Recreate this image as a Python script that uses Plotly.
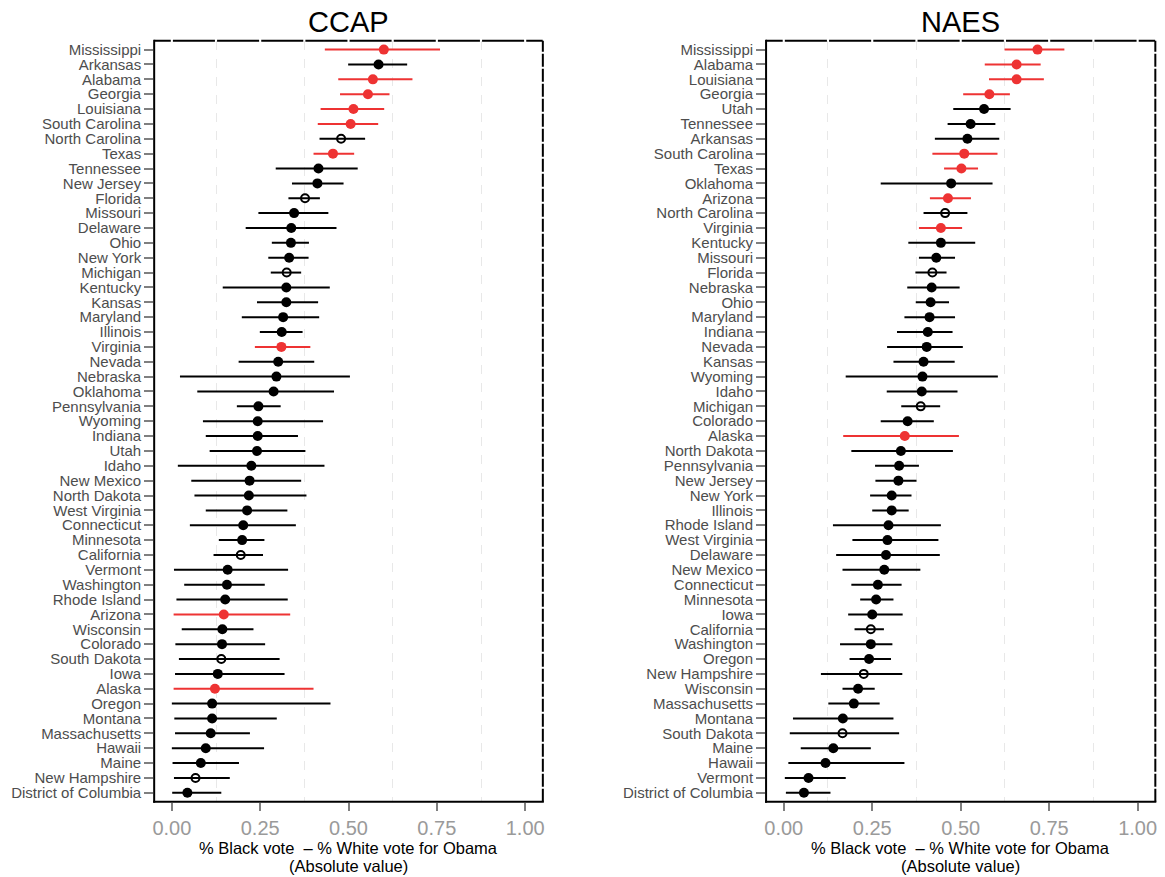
import plotly.graph_objects as go

# ---------------- data ----------------
ccap_states = ["Mississippi", "Arkansas", "Alabama", "Georgia", "Louisiana", "South Carolina",
               "North Carolina", "Texas", "Tennessee", "New Jersey", "Florida", "Missouri",
               "Delaware", "Ohio", "New York", "Michigan", "Kentucky", "Kansas", "Maryland",
               "Illinois", "Virginia", "Nevada", "Nebraska", "Oklahoma", "Pennsylvania",
               "Wyoming", "Indiana", "Utah", "Idaho", "New Mexico", "North Dakota",
               "West Virginia", "Connecticut", "Minnesota", "California", "Vermont",
               "Washington", "Rhode Island", "Arizona", "Wisconsin", "Colorado",
               "South Dakota", "Iowa", "Alaska", "Oregon", "Montana", "Massachusetts",
               "Hawaii", "Maine", "New Hampshire", "District of Columbia"]
ccap_est = [0.600, 0.585, 0.569, 0.555, 0.514, 0.506, 0.479, 0.456, 0.415, 0.412, 0.377, 0.346,
            0.338, 0.337, 0.332, 0.325, 0.324, 0.324, 0.315, 0.311, 0.310, 0.301, 0.296, 0.288,
            0.245, 0.243, 0.243, 0.241, 0.225, 0.220, 0.218, 0.213, 0.202, 0.199, 0.195, 0.158,
            0.156, 0.151, 0.147, 0.143, 0.142, 0.140, 0.130, 0.122, 0.114, 0.114, 0.110, 0.096,
            0.082, 0.067, 0.044]
ccap_lo = [0.433, 0.499, 0.471, 0.476, 0.421, 0.413, 0.418, 0.401, 0.294, 0.340, 0.330, 0.245,
           0.209, 0.283, 0.273, 0.280, 0.144, 0.241, 0.198, 0.249, 0.235, 0.189, 0.023, 0.072,
           0.184, 0.088, 0.096, 0.107, 0.017, 0.055, 0.064, 0.096, 0.051, 0.133, 0.118, 0.006,
           0.035, 0.013, 0.005, 0.028, 0.010, 0.020, 0.009, 0.005, 0.000, 0.007, 0.009, 0.000,
           0.002, 0.006, 0.001]
ccap_hi = [0.759, 0.666, 0.681, 0.616, 0.601, 0.584, 0.547, 0.516, 0.526, 0.486, 0.419, 0.443,
           0.466, 0.388, 0.387, 0.366, 0.447, 0.414, 0.417, 0.370, 0.392, 0.403, 0.504, 0.459,
           0.308, 0.428, 0.357, 0.378, 0.432, 0.366, 0.381, 0.327, 0.351, 0.262, 0.258, 0.329,
           0.263, 0.328, 0.335, 0.231, 0.264, 0.305, 0.319, 0.401, 0.449, 0.297, 0.221, 0.261,
           0.190, 0.164, 0.140]

naes_states = ["Mississippi", "Alabama", "Louisiana", "Georgia", "Utah", "Tennessee", "Arkansas",
               "South Carolina", "Texas", "Oklahoma", "Arizona", "North Carolina", "Virginia",
               "Kentucky", "Missouri", "Florida", "Nebraska", "Ohio", "Maryland", "Indiana",
               "Nevada", "Kansas", "Wyoming", "Idaho", "Michigan", "Colorado", "Alaska",
               "North Dakota", "Pennsylvania", "New Jersey", "New York", "Illinois",
               "Rhode Island", "West Virginia", "Delaware", "New Mexico", "Connecticut",
               "Minnesota", "Iowa", "California", "Washington", "Oregon", "New Hampshire",
               "Wisconsin", "Massachusetts", "Montana", "South Dakota", "Maine", "Hawaii",
               "Vermont", "District of Columbia"]
naes_est = [0.717, 0.658, 0.658, 0.581, 0.566, 0.528, 0.519, 0.510, 0.502, 0.473, 0.464, 0.456,
            0.444, 0.444, 0.431, 0.420, 0.418, 0.415, 0.412, 0.407, 0.404, 0.395, 0.392, 0.390,
            0.387, 0.350, 0.342, 0.331, 0.326, 0.324, 0.305, 0.305, 0.296, 0.293, 0.289, 0.284,
            0.266, 0.261, 0.250, 0.246, 0.246, 0.241, 0.226, 0.210, 0.198, 0.167, 0.166, 0.140,
            0.118, 0.070, 0.057]
naes_lo = [0.624, 0.568, 0.580, 0.507, 0.479, 0.463, 0.427, 0.420, 0.453, 0.274, 0.413, 0.395,
           0.382, 0.352, 0.382, 0.372, 0.349, 0.373, 0.341, 0.320, 0.292, 0.310, 0.175, 0.291,
           0.332, 0.274, 0.168, 0.191, 0.258, 0.259, 0.244, 0.250, 0.139, 0.194, 0.148, 0.166,
           0.191, 0.216, 0.182, 0.200, 0.159, 0.186, 0.105, 0.166, 0.126, 0.026, 0.017, 0.048,
           0.013, 0.003, 0.006]
naes_hi = [0.793, 0.726, 0.735, 0.639, 0.641, 0.598, 0.609, 0.604, 0.549, 0.590, 0.529, 0.519,
           0.504, 0.541, 0.484, 0.460, 0.497, 0.467, 0.484, 0.477, 0.506, 0.483, 0.605, 0.491,
           0.442, 0.424, 0.495, 0.478, 0.382, 0.375, 0.361, 0.353, 0.444, 0.437, 0.441, 0.386,
           0.333, 0.310, 0.336, 0.283, 0.307, 0.303, 0.335, 0.257, 0.271, 0.310, 0.326, 0.246,
           0.341, 0.175, 0.132]

red_states = ["Mississippi", "Alabama", "Georgia", "Louisiana", "South Carolina", "Texas",
              "Virginia", "Arizona", "Alaska"]
open_states = ["North Carolina", "Florida", "Michigan", "California", "South Dakota",
               "New Hampshire"]

panel_titles = ["CCAP", "NAES"]
xtick_vals = [0, 0.25, 0.5, 0.75, 1.0]
xtick_text = ["0.00", "0.25", "0.50", "0.75", "1.00"]
xlabel_line1 = "% Black vote \u00a0\u2013 % White vote for Obama"
xlabel_line2 = "(Absolute value)"

# ---------------- figure ----------------
W, H = 1165, 877
RED = "#EE3333"
FONT = "Liberation Sans, Arial, sans-serif"

x_domains = [[152.7 / W, 542.7 / W], [766.7 / W, 1157.3 / W]]
y_top_px, y_bot_px = 40.7, 801.7
y_domain = [1 - y_bot_px / H, 1 - y_top_px / H]

fig = go.Figure()

panels = [(ccap_states, ccap_est, ccap_lo, ccap_hi),
          (naes_states, naes_est, naes_lo, naes_hi)]

for p, (states, est, lo, hi) in enumerate(panels):
    xa = "x" if p == 0 else "x2"
    ya = "y" if p == 0 else "y2"
    for grp in ["black", "open", "red"]:
        sx, sy, ep, em = [], [], [], []
        for s, e, l, h in zip(states, est, lo, hi):
            if grp == "red" and s not in red_states:
                continue
            if grp == "open" and s not in open_states:
                continue
            if grp == "black" and (s in red_states or s in open_states):
                continue
            sx.append(e)
            sy.append(s)
            ep.append(h - e)
            em.append(e - l)
        col = RED if grp == "red" else "black"
        if grp == "open":
            marker = dict(symbol="circle-open", size=8, color="black", line=dict(width=2, color="black"))
        else:
            marker = dict(symbol="circle", size=10, color=col, line=dict(width=0))
        fig.add_trace(go.Scatter(
            x=sx, y=sy, mode="markers", marker=marker,
            error_x=dict(type="data", symmetric=False, array=ep, arrayminus=em,
                         color=col, thickness=2, width=0),
            xaxis=xa, yaxis=ya, showlegend=False, hoverinfo="skip"))

axis_common_x = dict(
    range=[-0.05, 1.05], tickmode="array", tickvals=xtick_vals, ticktext=xtick_text,
    ticks="outside", ticklen=8, tickwidth=2, tickcolor="#7f7f7f",
    tickfont=dict(family=FONT, size=20, color="#9a9a9a"),
    showgrid=False, zeroline=False, showline=False,
    minor=dict(tickvals=[0.125, 0.375, 0.625, 0.875], showgrid=True, gridcolor="#e8e8e8",
               griddash="dash", gridwidth=1, ticks=""),
    fixedrange=True,
)
axis_common_y = dict(
    type="category", ticks="outside", ticklen=9, tickwidth=2, tickcolor="#7f7f7f",
    tickfont=dict(family=FONT, size=15, color="#4d4d4d"),
    showgrid=False, zeroline=False, showline=False, range=[50.6, -0.6], fixedrange=True,
    tickmode="array",
)

fig.update_layout(
    width=W, height=H, margin=dict(l=0, r=0, t=0, b=0),
    plot_bgcolor="white", paper_bgcolor="white",
    xaxis=dict(domain=x_domains[0], anchor="y", **axis_common_x),
    xaxis2=dict(domain=x_domains[1], anchor="y2", **axis_common_x),
    yaxis=dict(domain=y_domain, anchor="x", categoryorder="array",
               categoryarray=ccap_states, tickvals=ccap_states, ticktext=ccap_states,
               **axis_common_y),
    yaxis2=dict(domain=y_domain, anchor="x2", categoryorder="array",
                categoryarray=naes_states, tickvals=naes_states, ticktext=naes_states,
                **axis_common_y),
)

shapes = []
annotations = []
for p in range(2):
    xl, xr = x_domains[p]
    yb, yt = y_domain
    xref = "x" if p == 0 else "x2"
    # left & bottom borders (solid)
    shapes.append(dict(type="line", xref="paper", yref="paper", x0=xl, x1=xl, y0=yb - 1 / H, y1=yt + 1 / H,
                       line=dict(color="black", width=2)))
    shapes.append(dict(type="line", xref="paper", yref="paper", x0=xl - 1 / W, x1=xr + 1 / W, y0=yb, y1=yb,
                       line=dict(color="black", width=2)))
    # right border (finely dashed)
    shapes.append(dict(type="line", xref="paper", yref="paper", x0=xr, x1=xr, y0=yb, y1=yt,
                       line=dict(color="black", width=2, dash="13px,2px")))
    # top border split at grid positions
    gaps = [-0.05] + [i * 0.125 for i in range(9)] + [1.05]
    for a, b in zip(gaps[:-1], gaps[1:]):
        a2 = a + (0.003 if a > -0.05 else 0)
        b2 = b - (0.003 if b < 1.05 else 0)
        shapes.append(dict(type="line", xref=xref, yref="paper", x0=a2, x1=b2, y0=yt, y1=yt,
                           line=dict(color="black", width=2)))
    cx = (xl + xr) / 2
    annotations.append(dict(text=panel_titles[p], x=cx, y=1 - 22 / H, xref="paper", yref="paper",
                            xanchor="center", yanchor="middle", showarrow=False,
                            font=dict(family=FONT, size=29, color="black")))
    annotations.append(dict(text=xlabel_line1, x=cx, y=1 - 848 / H, xref="paper", yref="paper",
                            xanchor="center", yanchor="middle", showarrow=False,
                            font=dict(family=FONT, size=16.5, color="black")))
    annotations.append(dict(text=xlabel_line2, x=cx, y=1 - 866 / H, xref="paper", yref="paper",
                            xanchor="center", yanchor="middle", showarrow=False,
                            font=dict(family=FONT, size=16.5, color="black")))

fig.update_layout(shapes=shapes, annotations=annotations)

fig.write_html("out.html", post_script="document.body.style.margin='0';",
               config={"displayModeBar": False})
